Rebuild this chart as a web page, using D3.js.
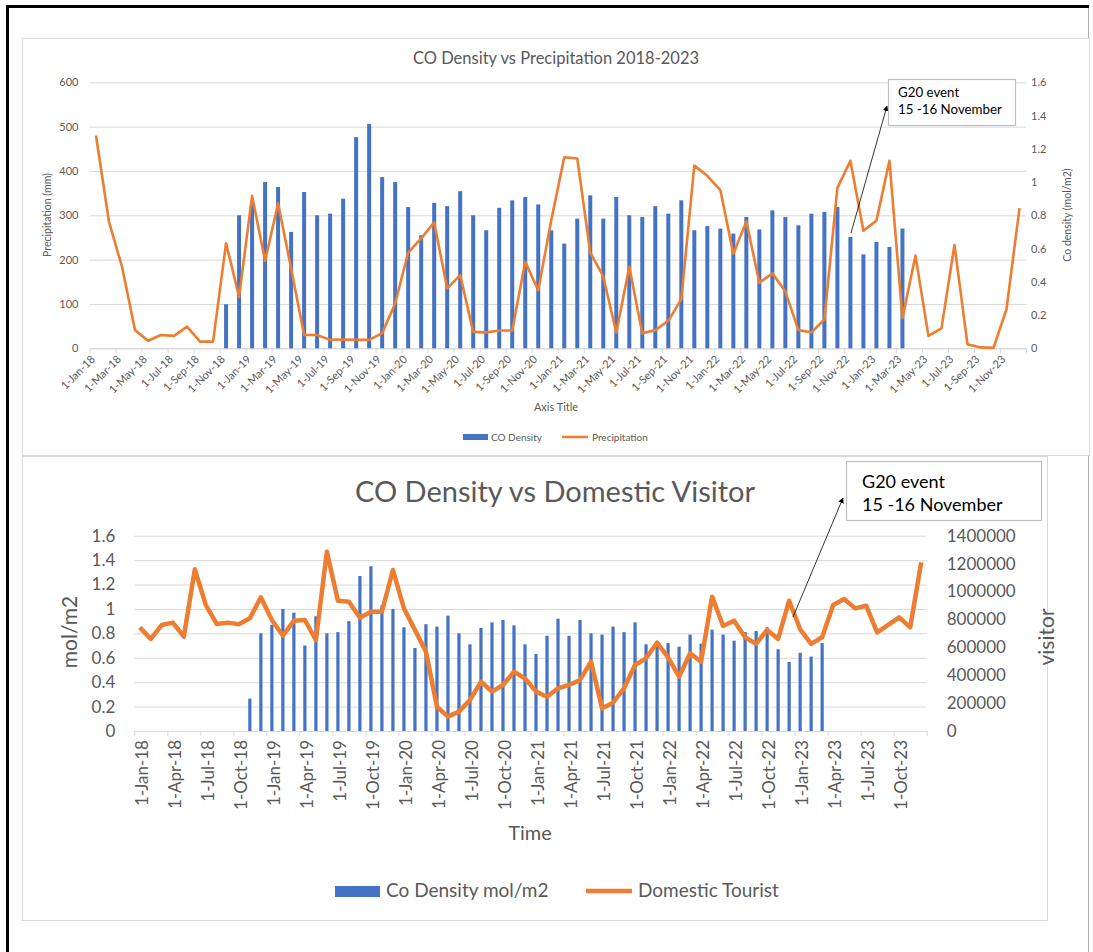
<!DOCTYPE html>
<html>
<head>
<meta charset="utf-8">
<script src="https://d3js.org/d3.v7.min.js"></script>
<style>
  body { margin: 0; background: #fff; }
  svg text { font-family: Lato, "Open Sans", sans-serif; fill: #595959; }
</style>
</head>
<body>
<script>
// months Jan-2018 .. Dec-2023
const firstMonth = new Date(2018, 0, 1)
const monthCount = 72
const months = d3.range(monthCount).map(i => d3.timeMonth.offset(firstMonth, i))

// precipitation (mm), one value per month
const precipitation = [
  480, 285, 184, 41, 17, 30, 28, 49, 15, 15,
  237, 116, 344, 197, 327, 180, 30, 30, 19, 20,
  19, 19, 34, 101, 216, 248, 284, 135, 165, 37,
  36, 40, 40, 195, 131, 289, 431, 428, 216, 162,
  35, 184, 34, 41, 62, 111, 412, 389, 357, 213,
  286, 148, 169, 128, 41, 36, 65, 362, 423, 265,
  288, 423, 68, 209, 28, 45, 233, 9, 2, 1,
  88, 316
]

// CO density (mol/m2), Nov-2018 .. Mar-2023
const coFirstMonth = 10
const coDensity = [
  0.265, 0.80, 0.87, 1.00, 0.97, 0.70, 0.94, 0.80, 0.81, 0.90,
  1.27, 1.35, 1.03, 1.00, 0.85, 0.68, 0.875, 0.855, 0.945, 0.80,
  0.71, 0.845, 0.89, 0.91, 0.865, 0.71, 0.63, 0.78, 0.92, 0.78,
  0.91, 0.80, 0.79, 0.855, 0.81, 0.89, 0.71, 0.735, 0.72, 0.69,
  0.79, 0.715, 0.83, 0.79, 0.74, 0.81, 0.82, 0.85, 0.67, 0.565,
  0.64, 0.61, 0.72
]

// domestic tourists per month
const domesticTourist = [
  743000, 660000, 760000, 777000, 676000, 1159000, 903000, 767000, 777000, 765000,
  808000, 958000, 796000, 683000, 791000, 796000, 652000, 1285000, 934000, 927000,
  812000, 855000, 855000, 1154000, 879000, 724000, 569000, 174000, 103000, 139000,
  222000, 354000, 282000, 330000, 425000, 377000, 282000, 246000, 306000, 330000,
  366000, 497000, 163000, 203000, 306000, 473000, 521000, 633000, 528000, 389000,
  557000, 497000, 963000, 753000, 791000, 672000, 624000, 724000, 660000, 934000,
  729000, 624000, 672000, 903000, 946000, 879000, 898000, 707000, 760000, 815000,
  743000, 1209000
]

const precipTicks = [0, 100, 200, 300, 400, 500, 600]
const coTicks = [0, 0.2, 0.4, 0.6, 0.8, 1, 1.2, 1.4, 1.6]
const visitorTicks = [0, 200000, 400000, 600000, 800000, 1000000, 1200000, 1400000]
const g20Note = ["G20 event", "15 -16 November"]

const blue = "#4472C4"
const orange = "#ED7D31"
const grid = "#d9d9d9"
const fmtMonth = d3.timeFormat("%-d-%b-%y")
const coBars = coDensity.map((v, i) => ({ i: i + coFirstMonth, v: v }))

const svg = d3.select("body").append("svg")
  .attr("width", 1093)
  .attr("height", 952)

// outer frame and chart panels
svg.append("line").attr("x1", 1088.5).attr("x2", 1088.5).attr("y1", 6).attr("y2", 952)
  .attr("stroke", "#b0b0b0").attr("stroke-width", 1)
svg.append("path")
  .attr("d", "M7.5,952 V6.5 H1089")
  .attr("fill", "none").attr("stroke", "#000").attr("stroke-width", 3)
svg.append("rect")
  .attr("x", 22.5).attr("y", 38.5).attr("width", 1067).attr("height", 417)
  .attr("fill", "#fff").attr("stroke", grid)
svg.append("rect")
  .attr("x", 22.5).attr("y", 456.5).attr("width", 1025).attr("height", 464)
  .attr("fill", "#fff").attr("stroke", grid)

function drawChart(o) {
  const g = svg.append("g")
  const x = d3.scaleBand().domain(d3.range(monthCount)).range([o.x0, o.x1])
  const xTick = d3.scaleLinear().domain([0, monthCount]).range([o.x0, o.x1])
  const yL = d3.scaleLinear().domain(o.leftDomain).range([o.y0, o.y1])
  const yR = d3.scaleLinear().domain(o.rightDomain).range([o.y0, o.y1])
  const bw = x.bandwidth()

  // gridlines
  g.append("g")
    .attr("transform", "translate(" + o.x0 + ",0)")
    .call(d3.axisLeft(yL).tickValues(o.gridTicks).tickSize(-(o.x1 - o.x0)).tickFormat(""))
    .call(s => s.select(".domain").remove())
    .call(s => s.selectAll("line").attr("stroke", grid))

  // left labels
  g.append("g")
    .attr("transform", "translate(" + o.x0 + ",0)")
    .call(d3.axisLeft(yL).tickValues(o.leftTicks).tickSize(0).tickPadding(o.leftPad).tickFormat(o.leftFmt))
    .call(s => s.select(".domain").remove())
    .call(s => s.selectAll("text").attr("font-size", o.fontSize).attr("font-family", null).attr("fill", null))

  // right labels
  g.append("g")
    .attr("transform", "translate(" + o.x1 + ",0)")
    .call(d3.axisRight(yR).tickValues(o.rightTicks).tickSize(0).tickPadding(o.rightPad).tickFormat(o.rightFmt))
    .call(s => s.select(".domain").remove())
    .call(s => s.selectAll("text").attr("font-size", o.fontSize).attr("font-family", null).attr("fill", null))

  // x axis
  const xa = g.append("g")
    .attr("transform", "translate(0," + o.y0 + ")")
    .call(d3.axisBottom(xTick).tickValues(d3.range(0, monthCount + 1, o.tickStep)).tickSize(5).tickSizeOuter(0)
      .tickFormat(i => i < monthCount ? fmtMonth(months[i]) : ""))
  xa.select(".domain").attr("stroke", grid)
  xa.selectAll("line").attr("stroke", grid)
  xa.selectAll("text")
    .attr("font-size", o.fontSize).attr("font-family", null).attr("fill", null)
    .attr("x", 0).attr("y", 0).attr("dy", "0.35em")
    .attr("text-anchor", "end")
    .attr("transform", o.labelTransform)

  // bars
  const bars = o.barsOnLeft ? yL : yR
  g.append("g").selectAll("rect")
    .data(coBars)
    .join("rect")
      .attr("x", d => x(d.i) + bw / 2 - o.barW / 2)
      .attr("y", d => bars(d.v))
      .attr("width", o.barW)
      .attr("height", d => o.y0 - bars(d.v))
      .attr("fill", blue)

  // line
  const lineScale = o.barsOnLeft ? yR : yL
  g.append("path")
    .datum(o.lineData)
    .attr("fill", "none")
    .attr("stroke", orange)
    .attr("stroke-width", o.lineW)
    .attr("stroke-linejoin", "round")
    .attr("d", d3.line().x((d, i) => x(i) + bw / 2).y(d => lineScale(d)))
}

// top chart: CO density vs precipitation
drawChart({
  x0: 89.5, x1: 1026, y0: 348.3, y1: 82.3,
  leftDomain: [0, 600], rightDomain: [0, 1.6],
  gridTicks: precipTicks, leftTicks: precipTicks, rightTicks: coTicks,
  leftFmt: d => d, rightFmt: d => String(+d.toFixed(1)),
  leftPad: 11, rightPad: 5, fontSize: 11, tickStep: 2,
  labelTransform: "translate(3,9) rotate(-45)",
  barW: 4, lineW: 2.6, barsOnLeft: false, lineData: precipitation
})

// bottom chart: CO density vs domestic visitor
drawChart({
  x0: 134.3, x1: 926.7, y0: 731, y1: 535.7,
  leftDomain: [0, 1.6], rightDomain: [0, 1400000],
  gridTicks: coTicks, leftTicks: coTicks, rightTicks: visitorTicks,
  leftFmt: d => String(+d.toFixed(1)), rightFmt: d => d,
  leftPad: 19, rightPad: 20, fontSize: 17, tickStep: 3,
  labelTransform: "translate(7,9) rotate(-90)",
  barW: 3.2, lineW: 4.5, barsOnLeft: true, lineData: domesticTourist
})

// titles and axis titles
function label(txt, x, y, size, rot, anchor) {
  svg.append("text")
    .attr("transform", "translate(" + x + "," + y + ")" + (rot ? " rotate(" + rot + ")" : ""))
    .attr("text-anchor", anchor || "middle")
    .attr("font-size", size)
    .text(txt)
}
label("CO Density vs Precipitation 2018-2023", 556, 64, 16.5)
label("Precipitation (mm)", 51, 215, 10.5, -90)
label("Co density (mol/m2)", 1071, 215, 10.5, -90)
label("Axis Title", 556, 411, 11)
label("CO Density vs Domestic Visitor", 555, 502, 29)
label("mol/m2", 77, 632, 21, -90)
label("visitor", 1054, 637, 21, -90)
label("Time", 530, 840, 20)

// legends
svg.append("rect").attr("x", 463).attr("y", 434).attr("width", 25).attr("height", 6).attr("fill", blue)
label("CO Density", 491, 441, 10, 0, "start")
svg.append("line").attr("x1", 562).attr("x2", 588).attr("y1", 437).attr("y2", 437).attr("stroke", orange).attr("stroke-width", 2.5)
label("Precipitation", 592, 441, 10, 0, "start")

svg.append("rect").attr("x", 335).attr("y", 886).attr("width", 45).attr("height", 11).attr("fill", blue)
label("Co Density mol/m2", 386, 897, 19, 0, "start")
svg.append("line").attr("x1", 586).attr("x2", 632).attr("y1", 891).attr("y2", 891).attr("stroke", orange).attr("stroke-width", 4.5)
label("Domestic Tourist", 638, 897, 19, 0, "start")

// G20 annotations
const defs = svg.append("defs")
defs.append("marker")
  .attr("id", "arrow").attr("viewBox", "0 0 10 10").attr("refX", 9).attr("refY", 5)
  .attr("markerWidth", 7).attr("markerHeight", 7).attr("orient", "auto-start-reverse")
  .append("path").attr("d", "M0,0 L10,5 L0,10 z").attr("fill", "#000")

function note(bx, by, bw, bh, size, tx, first, lh, ax1, ay1, ax2, ay2) {
  svg.append("line")
    .attr("x1", ax1).attr("y1", ay1).attr("x2", ax2).attr("y2", ay2)
    .attr("stroke", "#000").attr("stroke-width", 0.8)
    .attr("marker-end", "url(#arrow)")
  svg.append("rect")
    .attr("x", bx).attr("y", by).attr("width", bw).attr("height", bh)
    .attr("fill", "#fff").attr("stroke", "#bfbfbf").attr("stroke-width", 1.2)
  g20Note.forEach((t, k) => {
    svg.append("text")
      .attr("x", tx).attr("y", by + first + lh * k)
      .attr("font-size", size)
      .style("fill", "#000")
      .text(t)
  })
}
note(888.5, 79.5, 127, 46, 13.3, 898, 17.5, 16.5, 851, 233, 887, 106)
note(846.5, 461.5, 195, 59, 18, 862, 26, 23, 793, 617, 843, 498)
</script>
</body>
</html>
